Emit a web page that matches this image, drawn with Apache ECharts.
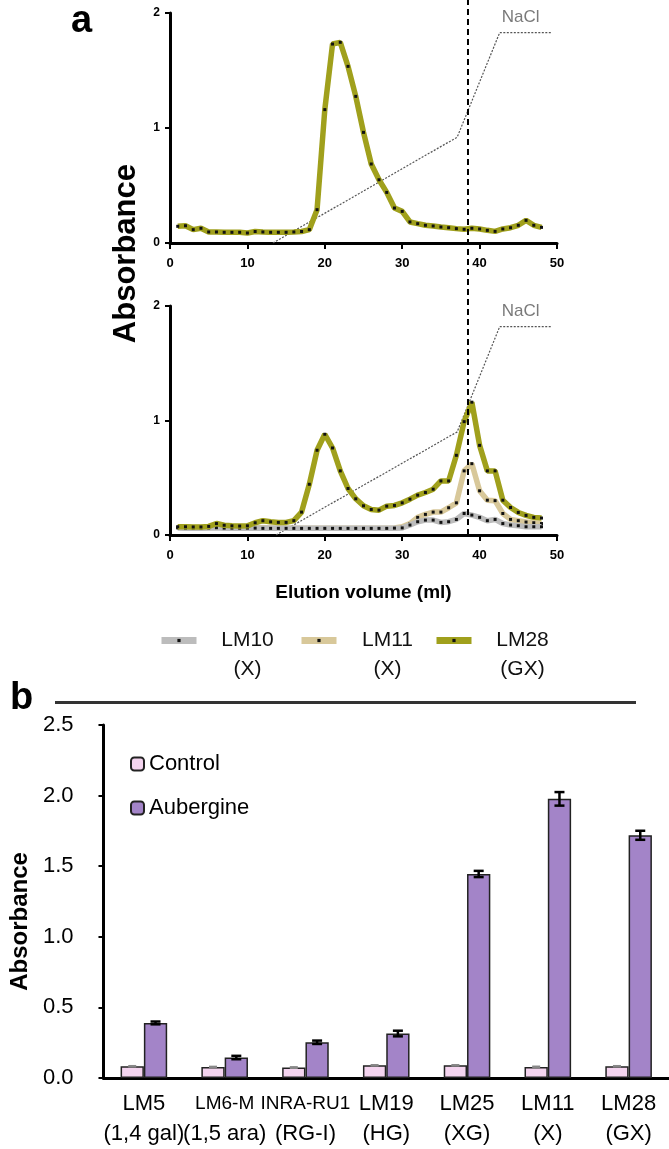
<!DOCTYPE html>
<html>
<head>
<meta charset="utf-8">
<script src="https://cdn.jsdelivr.net/npm/echarts@6/dist/echarts.min.js"></script>
<style>
html,body{margin:0;padding:0;background:#fff;}
#chart{width:669px;height:1149px;}
</style>
</head>
<body>
<div id="chart"></div>
<script>
// ---------- Panel a data ----------
const volumes = [1,2,3,4,5,6,7,8,9,10,11,12,13,14,15,16,17,18,19,20,21,22,23,24,25,26,27,28,29,30,31,32,33,34,35,36,37,38,39,40,41,42,43,44,45,46,47,48];
const topLM28 = [0.145,0.15,0.116,0.128,0.096,0.096,0.093,0.093,0.093,0.087,0.1,0.096,0.093,0.093,0.093,0.096,0.1,0.116,0.29,1.16,1.73,1.745,1.536,1.275,0.962,0.687,0.55,0.44,0.304,0.275,0.183,0.168,0.154,0.148,0.139,0.133,0.125,0.119,0.128,0.122,0.11,0.101,0.122,0.133,0.154,0.197,0.154,0.136];
const lowLM28 = [0.072,0.072,0.07,0.07,0.075,0.1,0.085,0.08,0.078,0.08,0.107,0.125,0.115,0.11,0.11,0.125,0.2,0.443,0.74,0.88,0.76,0.56,0.406,0.316,0.255,0.223,0.217,0.252,0.258,0.281,0.313,0.348,0.371,0.4,0.472,0.472,0.696,0.99,1.16,0.783,0.56,0.56,0.304,0.24,0.197,0.171,0.154,0.148];
const lowLM11 = [0.068,0.066,0.065,0.065,0.066,0.07,0.066,0.065,0.064,0.064,0.064,0.063,0.062,0.062,0.061,0.06,0.06,0.06,0.06,0.058,0.058,0.058,0.058,0.058,0.058,0.058,0.058,0.06,0.062,0.072,0.1,0.154,0.18,0.2,0.2,0.238,0.281,0.56,0.623,0.386,0.304,0.3,0.188,0.136,0.125,0.113,0.107,0.1];
const lowLM10 = [0.062,0.06,0.06,0.06,0.062,0.064,0.06,0.06,0.06,0.06,0.06,0.058,0.058,0.058,0.058,0.058,0.058,0.058,0.058,0.058,0.058,0.058,0.058,0.058,0.058,0.058,0.058,0.058,0.06,0.062,0.087,0.116,0.13,0.13,0.11,0.116,0.136,0.188,0.174,0.154,0.125,0.136,0.1,0.087,0.081,0.072,0.072,0.072];
const naclVolTop = [13.3,37.1,42.6,49.2];
const naclTop = [0,0.92,1.83,1.83];
const naclVolLow = [13.7,37.1,42.6,49.2];
const naclLow = [0,0.9,1.82,1.82];
const dashedVol = [38.5,38.5];
const dashedSpan = [0,1];
const lineNames = ['LM10','LM11','LM28'];
const lineSubs = ['(X)','(X)','(GX)'];

// ---------- Panel b data ----------
const barCats = ['LM5','LM6-M','INRA-RU1','LM19','LM25','LM11','LM28'];
const barSubs = ['(1,4 gal)','(1,5 ara)','(RG-I)','(HG)','(XG)','(X)','(GX)'];
const controlVals = [0.083,0.078,0.074,0.09,0.09,0.078,0.083];
const controlErr = [0.004,0.004,0.005,0.004,0.004,0.005,0.004];
const aubVals = [0.39,0.145,0.253,0.315,1.445,1.977,1.719];
const aubErr = [0.01,0.012,0.012,0.02,0.022,0.048,0.032];

const FONT = 'Liberation Sans, Arial, sans-serif';
const OLIVE = '#a0a01c', TAN = '#d8c89a', GRAY = '#bcbcbc';
const PINK = '#f4d4ef', PURPLE = '#a384c8';

const pairs = (xs, ys) => xs.map((x, i) => [x, ys[i]]);

function lineSeries(name, vals, color, xi, z) {
  return {
    type: 'line', name: name, xAxisIndex: xi, yAxisIndex: xi,
    data: pairs(volumes, vals), z: z,
    symbol: 'rect', symbolSize: 3, showSymbol: true,
    lineStyle: { color: color, width: 5.5 },
    itemStyle: { color: '#111' },
    emphasis: { disabled: true }, animation: false
  };
}
function naclSeries(vx, vy, xi) {
  return {
    type: 'line', name: 'NaCl', xAxisIndex: xi, yAxisIndex: xi, z: 1,
    data: pairs(vx, vy).map((p, i) => i === 2 ? {
      value: p, label: { show: true, formatter: 'NaCl', position: 'top', align: 'left', offset: [2, -1],
        color: '#7a7a7a', fontSize: 17, fontFamily: FONT }
    } : p),
    symbol: 'circle', symbolSize: 1, showSymbol: true,
    itemStyle: { color: 'rgba(0,0,0,0)' },
    lineStyle: { color: '#555', width: 1.2, type: [2, 1.5] },
    animation: false, silent: true
  };
}

const xAxisA = (gi) => ({
  type: 'value', gridIndex: gi, min: 0, max: 50, interval: 10,
  axisLine: { onZero: false, lineStyle: { color: '#000', width: 3 } },
  axisTick: { show: true, length: 6, lineStyle: { color: '#000', width: 2 } },
  axisLabel: { color: '#000', fontWeight: 'bold', fontSize: 13, fontFamily: FONT, margin: 14 },
  splitLine: { show: false }
});
const yAxisA = (gi) => ({
  type: 'value', gridIndex: gi, min: 0, max: 2, interval: 1,
  axisLine: { show: true, lineStyle: { color: '#000', width: 3 } },
  axisTick: { show: true, length: 5, lineStyle: { color: '#000', width: 2 } },
  axisLabel: { color: '#000', fontWeight: 'bold', fontSize: 12, fontFamily: FONT, margin: 10 },
  splitLine: { show: false }
});

const BARW = 23.3;
function errSeries(name, vals, errs, side, color, lw, cap) {
  return {
    type: 'custom', name: name + ' err', xAxisIndex: 3, yAxisIndex: 3, z: 5,
    data: vals.map((v, i) => [i, v - errs[i], v + errs[i]]),
    encode: { x: 0, y: [1, 2] },
    renderItem: function (params, api) {
      const i = api.value(0);
      const top = api.coord([i, api.value(2)]);
      const bot = api.coord([i, api.value(1)]);
      const x = top[0] + side * BARW / 2;
      const st = { stroke: color, lineWidth: lw };
      return {
        type: 'group', children: [
          { type: 'line', shape: { x1: x, y1: top[1], x2: x, y2: bot[1] }, style: st },
          { type: 'line', shape: { x1: x - cap, y1: top[1], x2: x + cap, y2: top[1] }, style: st },
          { type: 'line', shape: { x1: x - cap, y1: bot[1], x2: x + cap, y2: bot[1] }, style: st }
        ]
      };
    },
    animation: false, silent: true
  };
}

const legendA = lineNames.map((n, i) => ({
  data: [n], left: [158, 298, 433][i], top: 630, padding: 0,
  itemWidth: 35, itemHeight: 4, selectedMode: false,
  lineStyle: { width: 7 },
  formatter: function (name) { return '{a|' + name + '}\n{a|' + lineSubs[lineNames.indexOf(name)] + '}'; },
  textStyle: {
    padding: [29, 0, 0, 14],
    rich: { a: { fontSize: 21, lineHeight: 29, width: 64, align: 'center', color: '#111', fontFamily: FONT } }
  }
}));

const option = {
  backgroundColor: '#fff',
  animation: false,
  title: [
    { text: 'a', left: 66, top: -2, textStyle: { fontSize: 38, fontWeight: 'bold', color: '#000', fontFamily: FONT } },
    { text: 'b', left: 5, top: 675, textStyle: { fontSize: 38, fontWeight: 'bold', color: '#000', fontFamily: FONT } }
  ],
  legend: legendA.concat([{
    data: ['Control', 'Aubergine'], orient: 'vertical', left: 130, top: 752, padding: 0,
    itemWidth: 13, itemHeight: 13, itemGap: 20, selectedMode: false,
    textStyle: { fontSize: 22, lineHeight: 24, color: '#000', fontFamily: FONT }
  }]),
  grid: [
    { left: 170, top: 13, width: 387, height: 230 },
    { left: 170, top: 306, width: 387, height: 229 },
    { left: 170, top: 0, width: 387, height: 535 },
    { left: 93, top: 725, right: 0, height: 353 }
  ],
  xAxis: [
    xAxisA(0),
    Object.assign(xAxisA(1), {
      name: 'Elution volume (ml)', nameLocation: 'middle', nameGap: 48,
      nameTextStyle: { fontSize: 19, fontWeight: 'bold', color: '#000', fontFamily: FONT }
    }),
    { type: 'value', gridIndex: 2, min: 0, max: 50, show: false },
    {
      type: 'category', gridIndex: 3, data: barCats.map((c, i) => c + '\n' + barSubs[i]),
      axisLine: { lineStyle: { color: '#000', width: 3 } },
      axisTick: { show: false },
      axisLabel: {
        interval: 0, color: '#000', fontSize: 22, lineHeight: 30, fontFamily: FONT, margin: 11,
        formatter: function (v) {
          const parts = v.split('\n');
          const tag = parts[0].indexOf('-') >= 0 ? 'n' : 'r';
          return '{' + tag + '|' + parts[0] + '}\n{r|' + parts[1] + '}';
        },
        rich: {
          r: { fontSize: 22, lineHeight: 30, fontFamily: FONT, color: '#000' },
          n: { fontSize: 19, lineHeight: 30, fontFamily: FONT, color: '#000' }
        }
      }
    }
  ],
  yAxis: [
    yAxisA(0),
    yAxisA(1),
    { type: 'value', gridIndex: 2, min: 0, max: 1, show: false },
    {
      type: 'value', gridIndex: 3, min: 0, max: 2.5, interval: 0.5,
      axisLine: { show: true, lineStyle: { color: '#000', width: 3 } },
      axisTick: { show: true, length: 5, lineStyle: { color: '#000', width: 2 } },
      axisLabel: { color: '#000', fontSize: 22, fontFamily: FONT, margin: 30, formatter: v => v.toFixed(1) },
      splitLine: { show: false },
      name: 'Absorbance', nameLocation: 'middle', nameGap: 70,
      nameTextStyle: { fontSize: 24, fontWeight: 'bold', color: '#000', fontFamily: FONT, padding: [0, 40, 0, 0] }
    }
  ],
  graphic: [
    { type: 'text', left: 111, top: 164, rotation: Math.PI / 2,
      style: { text: 'Absorbance', fontSize: 31, fontWeight: 'bold', fill: '#000', fontFamily: FONT } },
    { type: 'line', shape: { x1: 55, y1: 702.5, x2: 636, y2: 702.5 }, style: { stroke: '#333', lineWidth: 3 } }
  ],
  series: [
    naclSeries(naclVolTop, naclTop, 0),
    lineSeries('LM28', topLM28, OLIVE, 0, 3),
    naclSeries(naclVolLow, naclLow, 1),
    lineSeries('LM11', lowLM11, TAN, 1, 2),
    lineSeries('LM10', lowLM10, GRAY, 1, 3),
    lineSeries('LM28', lowLM28, OLIVE, 1, 4),
    {
      type: 'line', name: 'divider', xAxisIndex: 2, yAxisIndex: 2, z: 6,
      data: pairs(dashedVol, dashedSpan), symbol: 'none',
      lineStyle: { color: '#000', width: 2, type: [6, 4] }, silent: true
    },
    {
      type: 'bar', name: 'Control', xAxisIndex: 3, yAxisIndex: 3, data: controlVals,
      barWidth: BARW, barGap: '0%',
      itemStyle: { color: PINK, borderColor: '#222', borderWidth: 1.5 }
    },
    {
      type: 'bar', name: 'Aubergine', xAxisIndex: 3, yAxisIndex: 3, data: aubVals,
      barWidth: BARW, barGap: '0%',
      itemStyle: { color: PURPLE, borderColor: '#222', borderWidth: 1.5 }
    },
    errSeries('Control', controlVals, controlErr, -1, '#888', 1.5, 4),
    errSeries('Aubergine', aubVals, aubErr, 1, '#000', 2.5, 5)
  ]
};

const chart = echarts.init(document.getElementById('chart'), null, { renderer: 'canvas' });
chart.setOption(option);
</script>
</body>
</html>
